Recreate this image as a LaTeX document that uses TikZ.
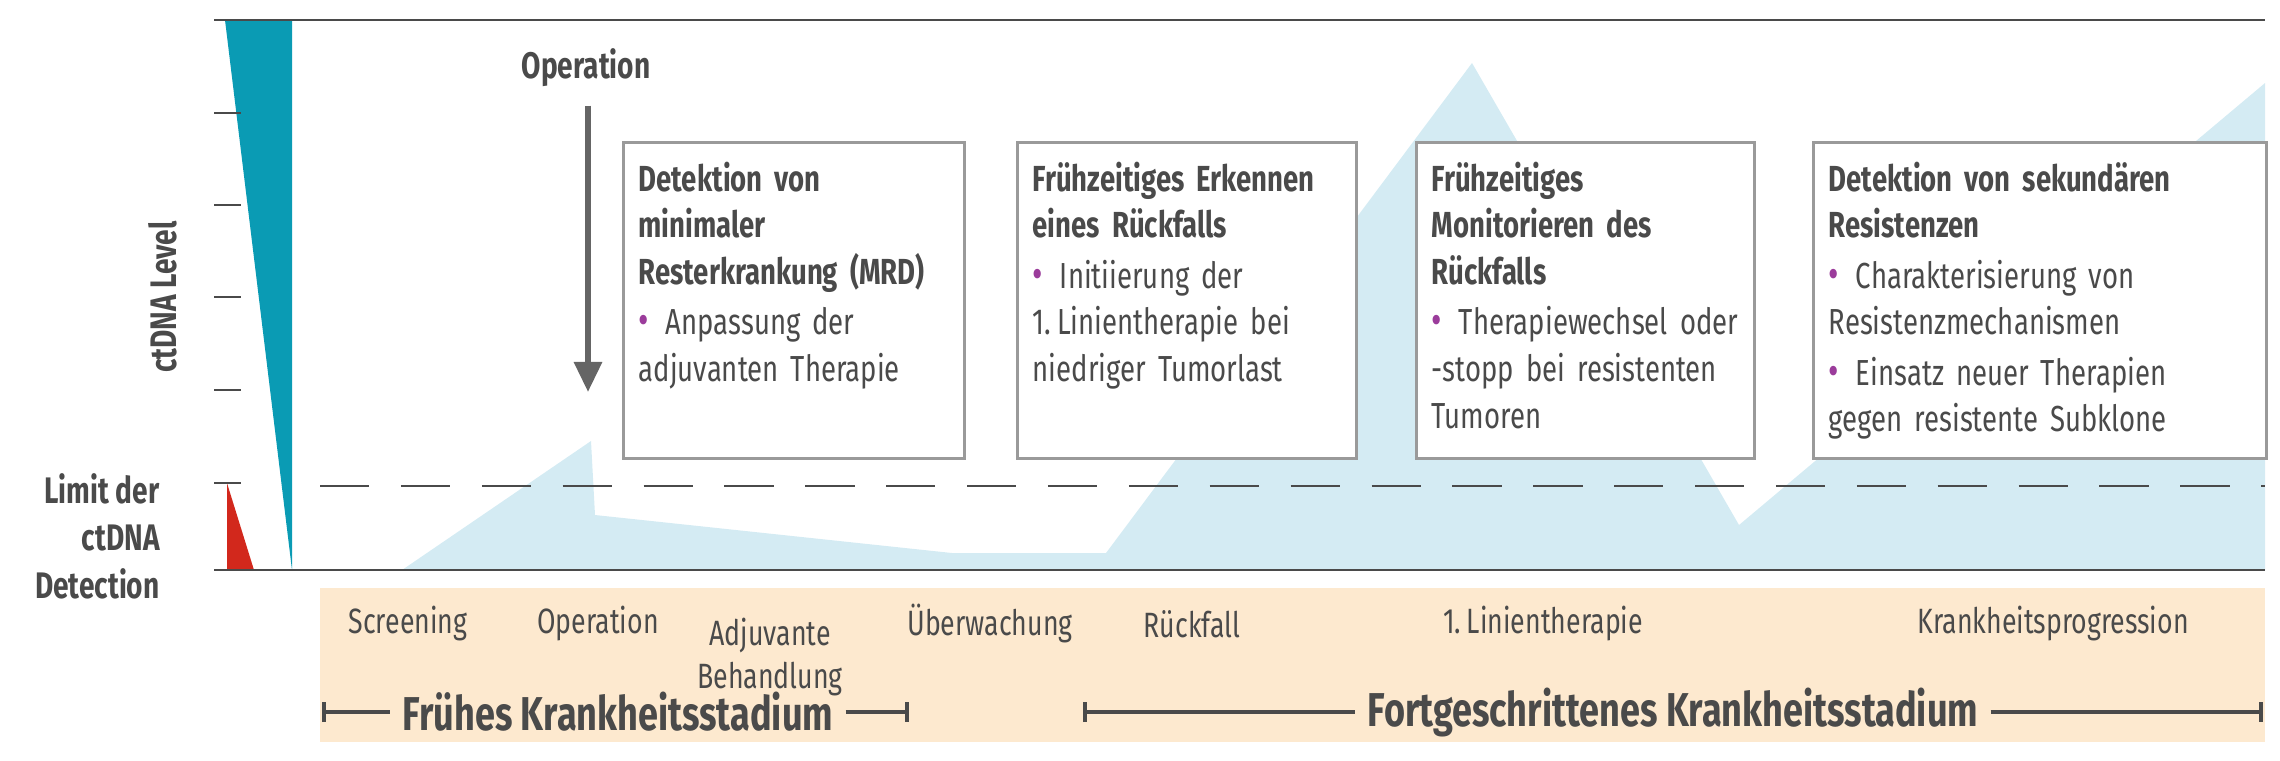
\documentclass[tikz,border=0pt]{standalone}
\usepackage{fontspec}
\setmainfont[FakeStretch=0.76]{Fira Sans}
\usetikzlibrary{arrows.meta}
\definecolor{teal}{HTML}{0A9BB4}
\definecolor{redc}{HTML}{D2281C}
\definecolor{lblue}{HTML}{D4EBF3}
\definecolor{tan}{HTML}{FDE9CF}
\definecolor{txt}{HTML}{4A4A4A}
\definecolor{boxc}{HTML}{9A9A9A}
\definecolor{bulc}{HTML}{9B3C9B}
\newcommand\bul[1]{\par\vspace{1pt}\hangindent=0.75em\hangafter=1\noindent\makebox[0.75em][l]{\textcolor{bulc}{\large\textbullet}}#1}
\begin{document}
\begin{tikzpicture}[x=0.01cm,y=-0.01cm,
  every node/.style={text=txt,font=\fontsize{10}{13}\selectfont},
  box/.style={draw=boxc,line width=0.9pt,fill=white,anchor=north west,align=left,inner sep=0pt,minimum height=3.16cm},
  boxt/.style={anchor=north west,text width=3.25cm,align=left,inner sep=0pt,font=\fontsize{10.3}{13.3}\selectfont},
  lab/.style={font=\fontsize{10}{13}\selectfont},
  phase/.style={font=\bfseries\fontsize{13.5}{15}\selectfont},
  axis/.style={draw=txt,line width=0.8pt}]
\useasboundingbox (0,0) rectangle (2280,760);
% light blue area
\fill[lblue] (402,570) -- (591,441) -- (595,515) -- (952,553) -- (1106,553) -- (1472,63) -- (1739,525) -- (2265,83) -- (2265,570) -- cycle;
% tan band
\fill[tan] (320,588) rectangle (2265,742);
% wedges
\fill[teal] (225,20) -- (292,20) -- (292,570) -- cycle;
\fill[redc] (227,483) -- (254,570) -- (227,570) -- cycle;
% axes
\draw[axis] (214,20) -- (2265,20);
\draw[axis] (214,570) -- (2265,570);
\foreach \y in {113,205,297,390,483} \draw[axis] (214,\y) -- (241,\y);
\draw[txt,line width=0.6pt,dash pattern=on 14pt off 9pt] (320,486) -- (2265,486);
% axis labels
\node[rotate=90,font=\bfseries\fontsize{10.5}{12}\selectfont] (yl) at (163,297) {ctDNA Level};
\node[anchor=east,align=right,font=\bfseries\fontsize{10.5}{13.5}\selectfont] (lim) at (172,536) {Limit der\\ctDNA\\Detection};
% operation arrow
\node[font=\bfseries\fontsize{10.5}{12}\selectfont] (op) at (586,68) {Operation};
\coordinate (opend) at (588,392);
\draw[txt!85,line width=1.7pt,-{Triangle[width=0.27cm,length=0.3cm]}] (op.south) ++(2,6) coordinate (opst) -- (opend);
% boxes
\node[box,minimum width=3.41cm] (b1) at (622,141) {};
\node[box,minimum width=3.39cm] (b2) at (1016,141) {};
\node[box,minimum width=3.38cm] (b3) at (1415,141) {};
\node[box,minimum width=4.53cm] (b4) at (1812,141) {};
\node[boxt] (t1) at ([shift={(16,20)}]b1.north west) {\textbf{Detektion von\\minimaler\\Resterkrankung (MRD)}\bul{Anpassung der\\adjuvanten Therapie}};
\node[boxt] (t2) at ([shift={(16,20)}]b2.north west) {\textbf{Frühzeitiges Erkennen\\eines Rückfalls}\bul{Initiierung der\\1.\,Linientherapie bei\\niedriger Tumorlast}};
\node[boxt] (t3) at ([shift={(16,20)}]b3.north west) {\textbf{Frühzeitiges\\Monitorieren des\\Rückfalls}\bul{Therapiewechsel oder\\-stopp bei resistenten\\Tumoren}};
\node[boxt,text width=4cm] (t4) at ([shift={(16,20)}]b4.north west) {\textbf{Detektion von sekundären\\Resistenzen}\bul{Charakterisierung von\\Resistenzmechanismen}\bul{Einsatz neuer Therapien\\gegen resistente Subklone}};
% band labels
\node[lab] (l1) at (408,624) {Screening};
\node[lab] (l2) at (598,624) {Operation};
\node[lab,align=center,anchor=north,font=\fontsize{10}{12}\selectfont] (l3) at (770,606) {Adjuvante\\Behandlung};
\node[lab] (l4) at (990,624) {Überwachung};
\node[lab] (l5) at (1192,624) {Rückfall};
\node[lab] (l6) at (1543,624) {1.\,Linientherapie};
\node[lab] (l7) at (2053,624) {Krankheitsprogression};
% phases
\node[phase] (p1) at (618,712) {Frühes Krankheitsstadium};
\node[phase] (p2) at (1673,712) {Fortgeschrittenes Krankheitsstadium};
\coordinate (p1a) at (322,712); \coordinate (p1b) at (909,712);
\coordinate (p2a) at (1083,712); \coordinate (p2b) at (2263,712);
\draw[txt,line width=1.2pt,{Bar[width=0.2cm]}-] (p1a) -- (p1.west);
\draw[txt,line width=1.2pt,-{Bar[width=0.2cm]}] (p1.east) -- (p1b);
\draw[txt,line width=1.2pt,{Bar[width=0.2cm]}-] (p2a) -- (p2.west);
\draw[txt,line width=1.2pt,-{Bar[width=0.2cm]}] (p2.east) -- (p2b);
\end{tikzpicture}
\end{document}
